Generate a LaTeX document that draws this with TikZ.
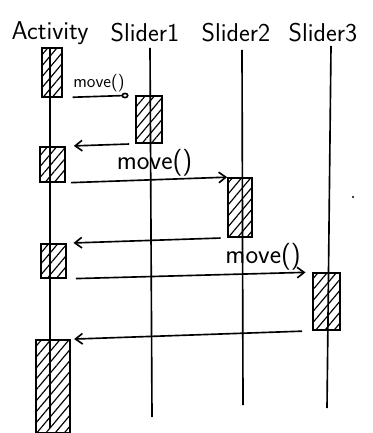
\documentclass[tikz,border=0pt]{standalone}
\usepackage{tikz}
\usetikzlibrary{arrows.meta}
\usetikzlibrary{patterns.meta}

\begin{document}
\begin{tikzpicture}[
    x=0.03cm, y=-0.03cm,
    line width=1.4pt,
    head/.style={font=\sffamily\fontsize{22}{26}\selectfont, inner sep=0pt},
    lifeline/.style={line width=1.4pt},
    activ/.style={rectangle, draw, pattern={Lines[angle=50, distance=6pt, line width=1pt]}, inner sep=0pt},
    call/.style={-{Straight Barb[length=6pt, width=9pt]}},
    callo/.style={-{Circle[open, length=6pt, width=5pt]}},
    ret/.style={-{Straight Barb[length=6pt, width=9pt]}},
    msg/.style={font=\sffamily\fontsize{23}{26}\selectfont, above, inner sep=2pt}
    ]
    \useasboundingbox (0,0) rectangle (372,433);

    % Nodes
    \node[head] (act) at (50,33) {Activity};
    \node[head] (s1) at (145,33) {Slider1};
    \node[head] (s2) at (236,33) {Slider2};
    \node[head] (s3) at (323,33) {Slider3};

    \coordinate (actT) at (50,48);
    \coordinate (actB) at (50,428);
    \coordinate (s1T) at (150,48);
    \coordinate (s1B) at (152,417);
    \coordinate (s2T) at (242,50);
    \coordinate (s2B) at (243,405);
    \coordinate (s3T) at (331,46);
    \coordinate (s3B) at (327,408);

    % lifelines
    \draw[lifeline] (actT) -- (actB);
    \draw[lifeline] (s1T) -- (s1B);
    \draw[lifeline] (s2T) -- (s2B);
    \draw[lifeline] (s3T) -- (s3B);

    % activations
    \node[activ, minimum width=0.6cm, minimum height=1.47cm] (a1) at (52,72.5) {};
    \node[activ, minimum width=0.78cm, minimum height=1.41cm] (b1) at (149,119.5) {};
    \node[activ, minimum width=0.75cm, minimum height=1.05cm] (a2) at (52.5,164.5) {};
    \node[activ, minimum width=0.72cm, minimum height=1.77cm] (b2) at (240,207.5) {};
    \node[activ, minimum width=0.75cm, minimum height=1.02cm] (a3) at (53.5,261) {};
    \node[activ, minimum width=0.81cm, minimum height=1.71cm] (b3) at (326.5,301.5) {};
    \node[activ, minimum width=1.02cm, minimum height=2.79cm] (a4) at (53,386.5) {};

    % messages
    \draw[callo, shorten <=0.3cm, shorten >=0.2cm] (a1.south east) -- (b1.north west)
        node[midway, above, font=\sffamily\fontsize{15}{17}\selectfont] {move()};
    \draw[ret, shorten <=0.18cm, shorten >=0.24cm] (b1.south west) -- (a2.north east);

    \draw[call, shorten <=0.15cm] (a2.south east) -- (b2.north west)
        node[msg, pos=0.55] {move()};
    \draw[ret, shorten <=0.2cm, shorten >=0.2cm] (b2.south west) -- (a3.north east);

    \draw[call, shorten <=0.27cm, shorten >=0.2cm] (a3.south east) -- (b3.north west)
        node[msg, pos=0.8] {move()};
    \draw[ret, shorten <=0.3cm, shorten >=0.1cm] (b3.south west) -- (a4.north east);

    \fill (353,197) circle (1pt);
\end{tikzpicture}
\end{document}
